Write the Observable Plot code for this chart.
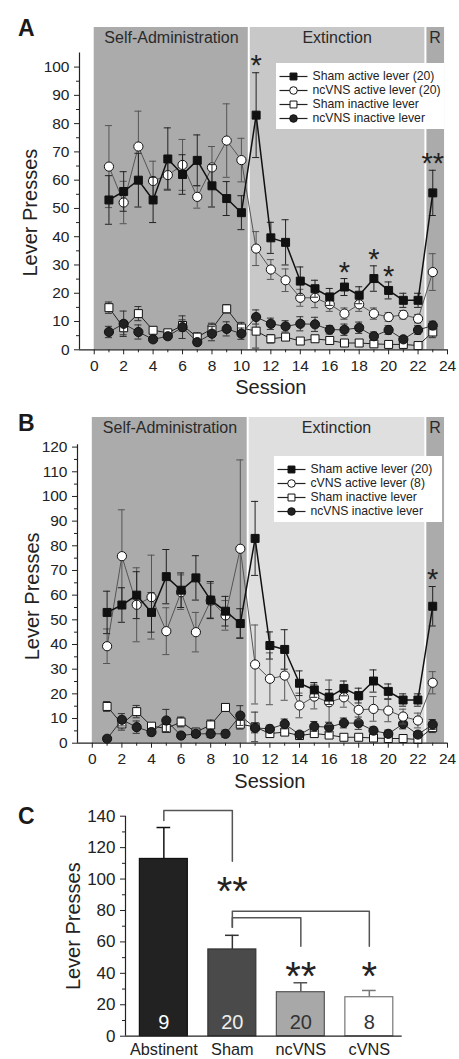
<!DOCTYPE html>
<html><head><meta charset="utf-8">
<script src="https://cdn.jsdelivr.net/npm/d3@7"></script>
<script src="https://cdn.jsdelivr.net/npm/@observablehq/plot@0.6"></script>
<style>
body{margin:0;background:#fff;font-family:"Liberation Sans",Arial,sans-serif;}
#wrap{position:relative;width:459px;height:1059px;overflow:hidden;background:#fff;}
.abs{position:absolute;}
.letter{position:absolute;font-weight:bold;font-size:23px;line-height:1;color:#1a1a1a;}
</style></head>
<body><div id="wrap"></div>
<script>
// ---------- DATA ----------
const sessions = [1,2,3,4,5,6,7,8,9,10,11,12,13,14,15,16,17,18,19,20,21,22,23];
const phases = [
  {name:"Self-Administration", start:0, end:10.5},
  {name:"Extinction", start:10.5, end:22.5},
  {name:"R", start:22.5, end:23.8}
];
// Panel A + B shared sham groups
const shamActive    = [53, 56, 60, 53, 67.5, 62, 67, 58, 53.5, 48.5, 83, 39.6, 38, 24.3, 21.6, 18.7, 22.2, 19.3, 25.2, 21, 17.5, 17.5, 55.5];
const shamActiveSem = [8.6, 7, 9.5, 8, 11, 7, 9, 7.5, 6, 6, 15, 5.5, 8, 5, 3, 3, 3, 3, 4.5, 3, 2.5, 2.5, 8];
const shamInactive    = [14.9, 7.8, 12.8, 6.9, 6.0, 8.6, 4.5, 7.4, 14.5, 7.7, 6.6, 3.9, 4.5, 3.1, 3.9, 3.3, 2.4, 2.4, 2.1, 1.9, 1.9, 1.5, 6.3];
const shamInactiveSem = [2, 2.5, 2.5, 1, 1, 2, 1.5, 2, 1.5, 2, 6, 1.5, 1, 1, 1, 1, 1, 1, 1, 1, 1, 1, 2];
// Panel A ncVNS
const ncActive    = [64.8, 52.1, 71.9, 59.7, 61.8, 65.4, 54.1, 64.5, 74, 67.1, 35.8, 28.4, 24.6, 18.4, 18.4, 16.1, 12.8, 16.1, 12.8, 11.6, 12.4, 11, 27.5];
const ncActiveSem = [14.5, 7.5, 12.5, 7, 5, 9, 4, 7.4, 13, 7.7, 6, 3.5, 4, 3, 3.5, 2.5, 2, 2.5, 2, 1.5, 1.5, 1.5, 6.5];
const ncInactive    = [6.3, 9.2, 6.3, 3.7, 4.8, 8.0, 2.7, 5.7, 7.4, 5.7, 11.6, 9.2, 8.3, 9.2, 9.0, 7.1, 7.1, 7.8, 4.8, 7.0, 3.7, 7.0, 8.6];
const ncInactiveSem = [2, 4.5, 2.5, 1, 1, 4, 1, 2.5, 2.5, 2, 2.5, 2, 2, 2.5, 2.5, 1.5, 2, 2, 1.5, 1.5, 1, 1.5, 1.5];
// Panel B cVNS
const cActive    = [39.3, 75.8, 56.1, 59.2, 45.4, 61.2, 45, 57.8, 51.8, 78.8, 31.9, 26.1, 27.4, 15.3, 18.9, 16.6, 18.6, 13.5, 13.9, 13.2, 10.8, 9.2, 24.5];
const cActiveSem = [7, 18.8, 15, 17, 9.5, 7, 8, 7, 6, 36, 16, 10.5, 10, 5, 5, 9, 4, 4, 5, 4.5, 3, 3, 4.5];
const cInactive    = [1.8, 9.5, 6.5, 4.5, 9.2, 3.1, 3.8, 3.8, 3.8, 11.2, 6.2, 5.8, 7.8, 3.5, 6.8, 6.5, 8.2, 8.1, 5.1, 3.8, 7.8, 3.5, 7.6];
const cInactiveSem = [1, 2.5, 2.5, 1.5, 4.5, 1, 1.5, 1.5, 1.5, 4, 2, 1.5, 2, 1, 2, 2, 2, 2.5, 1.5, 1.5, 2, 1, 2];
const legendA = ["Sham active lever (20)", "ncVNS active lever (20)", "Sham inactive lever", "ncVNS inactive lever"];
const legendB = ["Sham active lever (20)", "cVNS active lever (8)", "Sham inactive lever", "ncVNS inactive lever"];
const starsA = [{x:11, y:103.1, t:"*"}, {x:17, y:29.8, t:"*"}, {x:19, y:34.5, t:"*"}, {x:20, y:28.4, t:"*"}, {x:23, y:68.2, t:"**"}];
const starsB = [{x:23, y:69.3, t:"*"}];
// Panel C
const groups = ["Abstinent", "Sham", "ncVNS", "cVNS"];
const groupMean = [112.8, 55.2, 28, 24.8];
const groupSem = [20, 9, 6, 4.3];
const groupN = [9, 20, 20, 8];
const brackets = [
  {from:0, to:1, top:143.6, y0:137.3, y1:111.4},
  {from:1, to:2, top:75.3, y0:69.4, y1:57.3},
  {from:1, to:3, top:79.5, y0:69.4, y1:57.3}
];
const starsC = [{i:1, y:98, t:"**"}, {i:2, y:43.9, t:"**"}, {i:3, y:43.9, t:"*"}];

// ---------- STYLES ----------
const FONT = "Liberation Sans, Arial, sans-serif";
const styleSA  = {symbol:"square", fill:"#111", line:"#111", lw:1.5, err:"#222"};
const styleOA  = {symbol:"circle", fill:"#fff", line:"#555", lw:1,   err:"#555"};
const styleSI  = {symbol:"square", fill:"#fff", line:"#222", lw:1,   err:"#333"};
const styleOI  = {symbol:"circle", fill:"#222", line:"#333", lw:1,   err:"#333"};
const barFill = ["#222", "#4a4a4a", "#a8a8a8", "#ffffff"];
const barStroke = ["#111", "#333", "#555", "#777"];
const nFill = ["#fff", "#eee", "#333", "#333"];

const wrap = document.getElementById("wrap");
function place(node, left, top) {
  const d = document.createElement("div");
  d.className = "abs"; d.style.left = left + "px"; d.style.top = top + "px";
  d.appendChild(node); wrap.appendChild(d); return d;
}
function letter(t, left, top) {
  const d = document.createElement("div");
  d.className = "letter"; d.textContent = t;
  d.style.left = left + "px"; d.style.top = top + "px";
  wrap.appendChild(d);
}

function sessionPanel(o) {
  const marks = [];
  phases.forEach((p, k) => marks.push(Plot.rect([p], {x1:"start", x2:"end", y1:() => 0, y2:() => o.yTop, fill: k === 1 ? o.extFill : "#ababab"})));
  marks.push(Plot.ruleX(phases.slice(1), {x:"start", y1:() => 0, y2:() => o.yTop, stroke:"#fff", strokeWidth:2}));
  marks.push(Plot.text(phases, {x: d => (d.start + d.end) / 2, frameAnchor:"top", lineAnchor:"top", textAnchor:"middle", dy:4, text:"name", fontSize:16, fill:"#2a2a2a"}));
  for (const s of o.series) {
    const rows = sessions.map((x, i) => ({x, y: s.mean[i], e: s.sem[i]}));
    const st = s.style;
    marks.push(Plot.ruleX(rows, {x:"x", y1: d => Math.max(0, d.y - d.e), y2: d => d.y + d.e, stroke: st.err, strokeWidth:1}));
    marks.push(Plot.ruleY(rows, {y: d => d.y + d.e, x1: d => d.x - 0.24, x2: d => d.x + 0.24, stroke: st.err, strokeWidth:1}));
    marks.push(Plot.ruleY(rows.filter(d => d.y - d.e > 0), {y: d => d.y - d.e, x1: d => d.x - 0.24, x2: d => d.x + 0.24, stroke: st.err, strokeWidth:1}));
    marks.push(Plot.line(rows, {x:"x", y:"y", stroke: st.line, strokeWidth: st.lw}));
    marks.push(Plot.dot(rows, {x:"x", y:"y", symbol: st.symbol, r: st.symbol === "square" ? 4.5 : 4.6, fill: st.fill, stroke:"#111", strokeWidth:1}));
  }
  marks.push(Plot.text(o.stars, {x:"x", y:"y", text:"t", fontSize:29, dy:7.2, fill:"#222"}));
  // axes
  marks.push(Plot.ruleX([-1], {y1:() => 0, y2:() => o.axisTop, stroke:"#222", strokeWidth:1.2}));
  marks.push(Plot.ruleY([0], {x1:() => -1, x2:() => 24, stroke:"#222", strokeWidth:1.2}));
  marks.push(Plot.axisY(d3.range(0, o.tickMax + 1, 10), {tickSize:5, tickPadding:5, fontSize:15.5, label:null, fill:"#222", stroke:"#222"}));
  marks.push(Plot.axisY(d3.range(5, o.axisTop, 10), {tickSize:3, tickFormat: () => "", label:null, stroke:"#222"}));
  marks.push(Plot.axisX([0,2,4,6,8,10,12,14,16,18,20,22,24], {tickSize:5, tickPadding:5, fontSize:15.5, label:null, fill:"#222", stroke:"#222"}));
  marks.push(Plot.axisX([1,3,5,7,9,11,13,15,17,19,21,23], {tickSize:3, tickFormat: () => "", label:null, stroke:"#222"}));
  marks.push(Plot.text(["Session"], {x: () => 12, frameAnchor:"bottom", lineAnchor:"middle", textAnchor:"middle", dy:38, fontSize:20, fill:"#222"}));
  marks.push(Plot.text(["Lever Presses"], {frameAnchor:"left", textAnchor:"middle", lineAnchor:"middle", rotate:-90, dx:o.ylabDx, dy:o.ylabDy, fontSize:20, fill:"#222"}));
  return Plot.plot({
    width:459, height:o.height, marginLeft:o.ml, marginRight:o.mr, marginTop:o.mt, marginBottom:o.mb,
    x:{domain:[-1, 24]}, y:{domain:[0, o.yTop]},
    style:{fontFamily:FONT, background:"transparent", overflow:"visible"},
    marks
  });
}

function legendPlot(labels, styles) {
  const entries = labels.map((label, i) => ({label, st: styles[i]}));
  const marks = [Plot.link(entries, {x1:() => 3, x2:() => 31, y1:"label", y2:"label", stroke:"#222", strokeWidth:1.2})];
  entries.forEach(e => marks.push(Plot.dot([e], {x:() => 17, y:"label", symbol:e.st.symbol, r: e.st.symbol === "square" ? 3.9 : 3.8, fill:e.st.fill, stroke:"#111", strokeWidth:1})));
  marks.push(Plot.text(entries, {x:() => 36, y:"label", text:"label", textAnchor:"start", lineAnchor:"middle", fontSize:12.2, fill:"#222"}));
  return Plot.plot({
    width:168, height:66, margin:0,
    x:{domain:[0, 168], range:[0, 168], axis:null},
    y:{type:"point", domain:labels, range:[11.5, 55.5], padding:0, axis:null},
    style:{fontFamily:FONT, background:"#fff"},
    marks
  });
}

// Panel A
place(sessionPanel({
  series:[
    {mean:shamInactive, sem:shamInactiveSem, style:styleSI},
    {mean:ncInactive, sem:ncInactiveSem, style:styleOI},
    {mean:ncActive, sem:ncActiveSem, style:styleOA},
    {mean:shamActive, sem:shamActiveSem, style:styleSA}
  ],
  yTop:114, axisTop:105, tickMax:100, extFill:"#c8c8c8",
  height:400, mt:27, mb:50.7, ml:79, mr:12, stars:starsA, ylabDx:-48.5, ylabDy:24
}), 0, 0);
place(legendPlot(legendA, [styleSA, styleOA, styleSI, styleOI]), 276, 63);
letter("A", 18, 17);

// Panel B
place(sessionPanel({
  series:[
    {mean:shamInactive, sem:shamInactiveSem, style:styleSI},
    {mean:cInactive, sem:cInactiveSem, style:styleOI},
    {mean:cActive, sem:cActiveSem, style:styleOA},
    {mean:shamActive, sem:shamActiveSem, style:styleSA}
  ],
  yTop:132, axisTop:121, tickMax:120, extFill:"#dfdfdf",
  height:400, mt:17, mb:57.3, ml:77, mr:12, stars:starsB, ylabDx:-45, ylabDy:16
}), 0, 400);
place(legendPlot(legendB, [styleSA, styleOA, styleSI, styleOI]), 274, 456);
letter("B", 18, 412);

// Panel C
(function(){
  const bars = groups.map((g, i) => ({i, g, mean: groupMean[i], sem: groupSem[i], n: groupN[i]}));
  const bpts = brackets.flatMap((b, k) => [
    {k, x:b.from, y:b.y0}, {k, x:b.from, y:b.top}, {k, x:b.to, y:b.top}, {k, x:b.to, y:b.y1}
  ]);
  const marks = [];
  marks.push(Plot.line(bpts, {x:"x", y:"y", z:"k", stroke:"#555", strokeWidth:1.5}));
  marks.push(Plot.ruleX(bars, {x:"i", y1:"mean", y2: d => d.mean + d.sem, stroke: d => barStroke[d.i], strokeWidth:1.5}));
  marks.push(Plot.ruleY(bars, {y: d => d.mean + d.sem, x1: d => d.i - 0.1, x2: d => d.i + 0.1, stroke: d => barStroke[d.i], strokeWidth:1.5}));
  marks.push(Plot.rect(bars, {x1: d => d.i - 0.35, x2: d => d.i + 0.35, y1:() => 0, y2:"mean", fill: d => barFill[d.i], stroke: d => barStroke[d.i], strokeWidth:1.2}));
  marks.push(Plot.text(bars, {x:"i", y:() => 0, text: d => String(d.n), dy:-13.4, fontSize:20, fill: d => nFill[d.i]}));
  marks.push(Plot.text(starsC, {x:"i", y:"y", text:"t", fontSize:40, dy:9.9, fill:"#222"}));
  marks.push(Plot.ruleX([-0.56], {y1:() => 0, y2:() => 140, stroke:"#222", strokeWidth:1.2}));
  marks.push(Plot.ruleY([0], {x1:() => -0.56, x2:() => 3.48, stroke:"#222", strokeWidth:1.2}));
  marks.push(Plot.axisY(d3.range(0, 141, 20), {tickSize:5, tickPadding:5, fontSize:17, label:null, fill:"#222", stroke:"#222"}));
  marks.push(Plot.axisY(d3.range(10, 140, 20), {tickSize:3, tickFormat: () => "", label:null, stroke:"#222"}));
  marks.push(Plot.axisX([0, 1, 2, 3], {tickSize:0, tickPadding:7, tickFormat: i => groups[i], fontSize:16.3, label:null, fill:"#222"}));
  marks.push(Plot.text(["Lever Presses"], {frameAnchor:"left", textAnchor:"middle", lineAnchor:"middle", rotate:-90, dx:-52, fontSize:20, fill:"#222"}));
  const svg = Plot.plot({
    width:459, height:269, marginLeft:125, marginRight:57.3, marginTop:25.7, marginBottom:23.3,
    x:{domain:[-0.56, 3.48]}, y:{domain:[0, 140]},
    color:{type:"identity"},
    style:{fontFamily:FONT, background:"transparent", overflow:"visible"},
    marks
  });
  place(svg, 0, 790);
})();
letter("C", 18, 805);
</script>
</body></html>
